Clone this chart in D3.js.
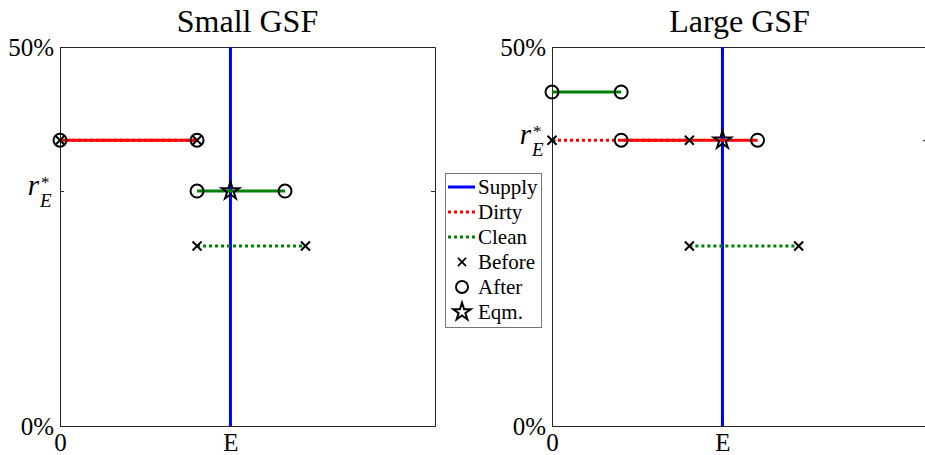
<!DOCTYPE html>
<html>
<head>
<meta charset="utf-8">
<script src="https://cdn.jsdelivr.net/npm/d3@7"></script>
<style>
  body { margin: 0; background: #fff; }
  svg { display: block; font-family: "Liberation Serif", "DejaVu Serif", serif; }
</style>
</head>
<body>
<svg id="chart" width="925" height="455"></svg>
<script>
// panel titles
var panelTitles = ["Small GSF", "Large GSF"];

// supply position on x (labelled E) and equilibrium rate per panel
var supplyE = 1;
var rStar = [0.31, 0.377];

// dirty sector: before (dotted) and after (solid), [x0, x1] at rate y
var dirtyBeforeX = [[0, 0.804], [0, 0.806]];
var dirtyBeforeY = [0.377, 0.377];
var dirtyAfterX = [[0, 0.804], [0.406, 1.206]];
var dirtyAfterY = [0.377, 0.377];

// clean sector
var cleanBeforeX = [[0.804, 1.44], [0.806, 1.447]];
var cleanBeforeY = [0.2375, 0.2375];
var cleanAfterX = [[0.804, 1.32], [0, 0.406]];
var cleanAfterY = [0.31, 0.4406];

// axes
var xMax = 2.2;
var yMax = 0.5;
var legendLabels = ["Supply", "Dirty", "Clean", "Before", "After", "Eqm."];

var svg = d3.select("#chart");

var margin = {top: 47, bottom: 29},
    plotW = 375,
    plotH = 455 - margin.top - margin.bottom,
    panelLeft = [60, 552];

var axisColor = "#262626";
var serif = "Liberation Serif, DejaVu Serif, serif";
var xMarker = "M-4.5,-4.5L4.5,4.5M-4.5,4.5L4.5,-4.5";
var starPath = d3.symbol().type(d3.symbolStar).size(95)();

function drawPanel(i) {
    var g = svg.append("g")
        .attr("transform", "translate(" + panelLeft[i] + "," + margin.top + ")");

    var x = d3.scaleLinear().domain([0, xMax]).range([0, plotW]);
    var y = d3.scaleLinear().domain([0, yMax]).range([plotH, 0]);

    var yTicks = [0, rStar[i], yMax];
    var xTicks = [0, supplyE];

    // box and inward ticks
    var axes = [
        g.append("g").attr("transform", "translate(0," + plotH + ")")
            .call(d3.axisBottom(x).tickValues(xTicks).tickSize(-4).tickSizeOuter(0)
                .tickFormat(function(d) { return d === 0 ? "0" : "E"; })),
        g.append("g").attr("transform", "translate(0,0)")
            .call(d3.axisTop(x).tickValues(xTicks).tickSize(-4).tickSizeOuter(0).tickFormat("")),
        g.append("g")
            .call(d3.axisLeft(y).tickValues(yTicks).tickSize(-4).tickSizeOuter(0)
                .tickFormat(function(d) { return d === 0 ? "0%" : d === yMax ? "50%" : ""; })),
        g.append("g").attr("transform", "translate(" + plotW + ",0)")
            .call(d3.axisRight(y).tickValues(yTicks).tickSize(-4).tickSizeOuter(0).tickFormat(""))
    ];
    axes.forEach(function(a) {
        a.attr("font-family", serif);
        a.selectAll(".domain").attr("stroke", axisColor).attr("stroke-width", 1);
        a.selectAll(".tick line").attr("stroke", axisColor);
        a.selectAll("text").attr("fill", "#000");
    });
    axes[0].selectAll("text").attr("font-size", 25).attr("dy", null).attr("y", 25);
    axes[2].selectAll("text").attr("font-size", 25).attr("x", -6).attr("dy", "0.32em");

    // r*_E label
    var rl = g.append("g").attr("transform", "translate(-21," + (y(rStar[i]) + 4) + ")");
    rl.append("text").attr("text-anchor", "end").attr("font-size", 29)
        .style("font-style", "italic").text("r");
    rl.append("text").attr("x", 2).attr("y", -7).attr("font-size", 17).text("*");
    rl.append("text").attr("x", 1).attr("y", 12).attr("font-size", 19)
        .style("font-style", "italic").text("E");

    // title
    g.append("text").attr("x", plotW / 2).attr("y", -15).attr("text-anchor", "middle")
        .attr("font-size", 32).text(panelTitles[i]);

    // supply
    g.append("line")
        .attr("x1", x(supplyE)).attr("x2", x(supplyE))
        .attr("y1", y(0)).attr("y2", y(yMax))
        .attr("stroke", "#0000ff").attr("stroke-width", 3);

    function seg(xs, yv, color, dotted) {
        g.append("line")
            .attr("x1", x(xs[0])).attr("x2", x(xs[1]))
            .attr("y1", y(yv)).attr("y2", y(yv))
            .attr("stroke", color).attr("stroke-width", 3)
            .attr("stroke-dasharray", dotted ? "3,3" : null);
    }
    seg(dirtyBeforeX[i], dirtyBeforeY[i], "#ff0000", true);
    seg(cleanBeforeX[i], cleanBeforeY[i], "#008000", true);
    seg(dirtyAfterX[i], dirtyAfterY[i], "#ff0000", false);
    seg(cleanAfterX[i], cleanAfterY[i], "#008000", false);

    // markers
    var before = [], after = [];
    dirtyBeforeX[i].forEach(function(v) { before.push([v, dirtyBeforeY[i]]); });
    cleanBeforeX[i].forEach(function(v) { before.push([v, cleanBeforeY[i]]); });
    dirtyAfterX[i].forEach(function(v) { after.push([v, dirtyAfterY[i]]); });
    cleanAfterX[i].forEach(function(v) { after.push([v, cleanAfterY[i]]); });

    g.selectAll(".before").data(before).enter().append("path")
        .attr("d", xMarker)
        .attr("transform", function(d) { return "translate(" + x(d[0]) + "," + y(d[1]) + ")"; })
        .attr("fill", "none").attr("stroke", "#000").attr("stroke-width", 2);

    g.selectAll(".after").data(after).enter().append("circle")
        .attr("cx", function(d) { return x(d[0]); })
        .attr("cy", function(d) { return y(d[1]); })
        .attr("r", 6.5)
        .attr("fill", "none").attr("stroke", "#000").attr("stroke-width", 2);

    g.append("path").attr("d", starPath)
        .attr("transform", "translate(" + x(supplyE) + "," + y(rStar[i]) + ")")
        .attr("fill", "none").attr("stroke", "#000").attr("stroke-width", 2);
}

drawPanel(0);
drawPanel(1);

// legend
var lg = svg.append("g").attr("transform", "translate(445,173)");
lg.append("rect").attr("x", 0.5).attr("y", 0.5).attr("width", 96).attr("height", 154)
    .attr("fill", "#fff").attr("stroke", "#777").attr("stroke-width", 1);

legendLabels.forEach(function(name, k) {
    var cy = 14 + k * 25;
    var row = lg.append("g").attr("transform", "translate(0," + cy + ")");
    if (k === 0) {
        row.append("line").attr("x1", 3).attr("x2", 30).attr("stroke", "#0000ff").attr("stroke-width", 3);
    } else if (k === 1 || k === 2) {
        row.append("line").attr("x1", 3).attr("x2", 30)
            .attr("stroke", k === 1 ? "#ff0000" : "#008000").attr("stroke-width", 3)
            .attr("stroke-dasharray", "3,3");
    } else if (k === 3) {
        row.append("path").attr("d", xMarker).attr("transform", "translate(17,0) scale(0.9)")
            .attr("fill", "none").attr("stroke", "#000").attr("stroke-width", 2);
    } else if (k === 4) {
        row.append("circle").attr("cx", 17).attr("r", 6)
            .attr("fill", "none").attr("stroke", "#000").attr("stroke-width", 2);
    } else {
        row.append("path").attr("d", starPath).attr("transform", "translate(17,0)")
            .attr("fill", "none").attr("stroke", "#000").attr("stroke-width", 2);
    }
    row.append("text").attr("x", 33).attr("dy", "0.35em").attr("font-size", 21).text(name);
});
</script>
</body>
</html>
